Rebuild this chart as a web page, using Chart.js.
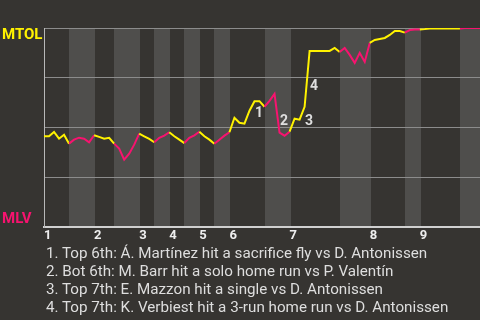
<!DOCTYPE html>
<html>
<head>
<meta charset="utf-8">
<script src="https://cdn.jsdelivr.net/npm/chart.js@4"></script>
<style>
  body { margin: 0; background: #363431; width: 480px; height: 320px; overflow: hidden; position: relative; }
  #wp { position: absolute; left: 0; top: 0; }
  #notes { position: absolute; left: 46px; top: 244px; font: 15.2px Roboto, sans-serif; line-height: 18px; color: #dedede; white-space: nowrap; }
</style>
</head>
<body>
<canvas id="wp" width="480" height="245"></canvas>
<div id="notes">
  <div>1. Top 6th: Á. Martínez hit a sacrifice fly vs D. Antonissen</div>
  <div>2. Bot 6th: M. Barr hit a solo home run vs P. Valentín</div>
  <div>3. Top 7th: E. Mazzon hit a single vs D. Antonissen</div>
  <div>4. Top 7th: K. Verbiest hit a 3-run home run vs D. Antonissen</div>
</div>
<script>
// MTOL win probability after each plate appearance
const winProb = [
  0.457, 0.457, 0.479, 0.445, 0.465, 0.42, 0.44, 0.45, 0.445, 0.427,
  0.462, 0.454, 0.445, 0.449, 0.42, 0.395, 0.34, 0.37, 0.415, 0.47,
  0.457, 0.444, 0.427, 0.449, 0.46, 0.477, 0.457, 0.44, 0.423, 0.449,
  0.462, 0.48, 0.457, 0.44, 0.419, 0.44, 0.46, 0.477, 0.55, 0.525,
  0.52, 0.585, 0.633, 0.633, 0.605, 0.635, 0.67, 0.475, 0.46, 0.48,
  0.545, 0.54, 0.605, 0.885, 0.885, 0.885, 0.885, 0.885, 0.9, 0.88,
  0.9, 0.865, 0.825, 0.875, 0.83, 0.925, 0.94, 0.945, 0.95, 0.965,
  0.985, 0.985, 0.977, 0.99, 0.993, 0.993, 0.995, 0.998, 0.998, 0.998,
  0.998, 0.998, 0.998, 0.998, 1.0, 1.0, 1.0, 1.0
];
// plate appearance index where each half inning starts
const topStarts = [0, 10, 19, 25, 31, 37, 49, 65, 75];
const botStarts = [5, 14, 22, 28, 34, 44, 59, 72, 83];
const inningLabels = ['1', '2', '3', '4', '5', '6', '7', '8', '9'];
const eventIdx = [42, 47, 52, 53];
const eventLabels = ['1', '2', '3', '4'];

const awayColor = '#fff200';
const homeColor = '#f7136f';

function isTop(i) {
  for (let k = botStarts.length - 1; k >= 0; k--) {
    if (i >= botStarts[k]) return false;
    if (i >= topStarts[k]) return true;
  }
  return true;
}

const bands = {
  id: 'bands',
  beforeDraw(chart) {
    const {ctx, chartArea, scales: {x}} = chart;
    ctx.save();
    ctx.fillStyle = '#4f4e4c';
    botStarts.forEach((b, k) => {
      const x0 = Math.round(x.getPixelForValue(b));
      const x1 = k + 1 < topStarts.length ? Math.round(x.getPixelForValue(topStarts[k + 1])) + 1 : chartArea.right;
      ctx.fillRect(x0, chartArea.top, x1 - x0, chartArea.bottom - chartArea.top);
    });
    ctx.restore();
  },
  afterDraw(chart) {
    const {ctx, scales: {x, y}} = chart;
    ctx.save();
    ctx.font = 'bold 15px Roboto';
    ctx.textAlign = 'left';
    ctx.textBaseline = 'alphabetic';
    ctx.fillStyle = awayColor;
    ctx.fillText('MTOL', 2, y.getPixelForValue(1) + 11);
    ctx.fillStyle = homeColor;
    ctx.fillText('MLV', 2, y.getPixelForValue(0) - 4);

    ctx.font = 'bold 14px Roboto';
    ctx.fillStyle = '#dedede';
    ctx.textAlign = 'center';
    ctx.textBaseline = 'middle';
    eventIdx.forEach((i, k) => {
      const mx = (x.getPixelForValue(i - 1) + x.getPixelForValue(i)) / 2;
      const my = (y.getPixelForValue(winProb[i - 1]) + y.getPixelForValue(winProb[i])) / 2;
      ctx.fillText(eventLabels[k], mx + 7, my + 8);
    });
    ctx.restore();
  }
};

const ctx = document.getElementById('wp').getContext('2d');
const chart = new Chart(ctx, {
  type: 'line',
  data: {
    datasets: [{
      data: winProb.map((v, i) => ({x: i, y: v})),
      borderWidth: 2,
      pointRadius: 0,
      tension: 0,
      borderColor: awayColor,
      segment: {
        borderColor: c => isTop(c.p0DataIndex) ? awayColor : homeColor
      }
    }]
  },
  options: {
    responsive: false,
    animation: false,
    layout: { padding: { left: 44, top: 28, right: 0, bottom: 0 } },
    plugins: { legend: { display: false }, tooltip: { enabled: false } },
    scales: {
      x: {
        type: 'linear',
        min: 0,
        max: winProb.length - 1,
        grid: { display: false, drawTicks: false },
        border: { display: true, color: '#d0d0d0', width: 2 },
        afterBuildTicks: scale => { scale.ticks = topStarts.map(v => ({value: v})); },
        ticks: {
          autoSkip: false,
          maxRotation: 0,
          align: 'start',
          padding: 1,
          color: '#eeeeee',
          font: { family: 'Roboto', size: 13, weight: 'bold' },
          callback: (value, index) => inningLabels[index]
        }
      },
      y: {
        min: 0,
        max: 1,
        ticks: { display: false, stepSize: 0.25 },
        grid: { color: '#8c8c8c', lineWidth: 1, drawTicks: false },
        border: { display: true, color: '#b8b8b8', width: 1 }
      }
    }
  },
  plugins: [bands]
});
</script>
</body>
</html>
